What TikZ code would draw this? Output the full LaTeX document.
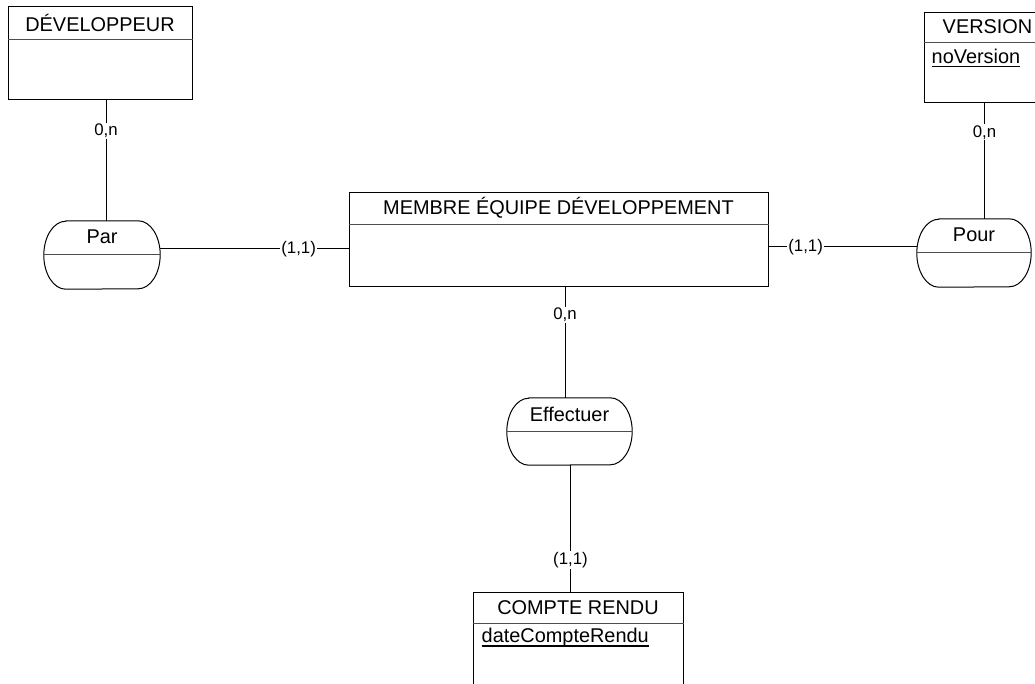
\documentclass[tikz,border=0pt]{standalone}
\usepackage{fontspec}
\setmainfont{Liberation Sans}
\begin{document}
\begin{tikzpicture}[x=1pt,y=1pt,
  line/.style={draw=black,line width=1pt},
  divider/.style={draw=black!70,line width=1pt},
  uline/.style={draw=black,line width=1.5pt},
  entity/.style={line,rectangle,inner sep=0pt},
  assocbox/.style={rectangle,draw=none,inner sep=0pt,minimum width=#1,minimum height=68pt},
  titletext/.style={inner sep=0pt,anchor=base,font=\fontsize{19.9}{22}\selectfont},
  attrtext/.style={inner sep=0pt,anchor=base west,font=\fontsize{19.9}{22}\selectfont},
  card/.style={fill=white,inner sep=1pt,font=\fontsize{16.8}{18}\selectfont}
]
\newcommand\assocoutline[1]{%
  \draw[line] ([xshift=22pt]#1.north west) -- ([xshift=-22pt]#1.north east)
    arc[start angle=90,end angle=-90,x radius=22pt,y radius=34pt]
    -- ([xshift=22pt]#1.south west)
    arc[start angle=270,end angle=90,x radius=22pt,y radius=34pt] -- cycle;
  \draw[divider] (#1.west) -- (#1.east);}
\useasboundingbox (0,0) rectangle (1035,-684);
\begin{scope}
\clip (0,0) rectangle (1035,-684);

% entities
\node[entity,minimum width=184pt,minimum height=93pt] (dev) at (100,-53.5) {};
\draw[divider] ([yshift=-33pt]dev.north west) -- ([yshift=-33pt]dev.north east);
\node[titletext] (devtitle) at ([yshift=-25pt]dev.north) {DÉVELOPPEUR};

\node[entity,minimum width=127pt,minimum height=90pt] (version) at (987.5,-58) {};
\draw[divider] ([yshift=-30pt]version.north west) -- ([yshift=-30pt]version.north east);
\node[titletext] (versiontitle) at ([yshift=-21pt]version.north) {VERSION};
\node[attrtext] (versionattr) at ([xshift=8pt,yshift=-51pt]version.north west) {noVersion};
\draw[uline] ([yshift=-3pt]versionattr.base west) -- ([yshift=-3pt]versionattr.base east);

\node[entity,minimum width=419pt,minimum height=94pt] (membre) at (558.5,-240) {};
\draw[divider] ([yshift=-32pt]membre.north west) -- ([yshift=-32pt]membre.north east);
\node[titletext] (membretitle) at ([yshift=-22pt]membre.north) {MEMBRE ÉQUIPE DÉVELOPPEMENT};

\node[entity,minimum width=210pt,minimum height=100pt] (compte) at (578,-642) {};
\draw[divider] ([yshift=-32pt]compte.north west) -- ([yshift=-32pt]compte.north east);
\node[titletext] (comptetitle) at ([yshift=-23pt]compte.north) {COMPTE RENDU};
\node[attrtext] (compteattr) at ([xshift=9pt,yshift=-51pt]compte.north west) {dateCompteRendu};
\draw[uline] ([yshift=-3.5pt]compteattr.base west) -- ([yshift=-3.5pt]compteattr.base east);

% associations
\node[assocbox=116pt] (par) at (102,-255) {};
\assocoutline{par}
\node[titletext] (partitle) at ([yshift=-23pt]par.north) {Par};

\node[assocbox=114pt] (pour) at (974,-253) {};
\assocoutline{pour}
\node[titletext] (pourtitle) at ([yshift=-23pt]pour.north) {Pour};

\node[assocbox=125pt,minimum height=67pt] (eff) at (569.5,-431.5) {};
\draw[line] ([xshift=22pt]eff.north west) -- ([xshift=-22pt]eff.north east)
    arc[start angle=90,end angle=-90,x radius=22pt,y radius=33.5pt]
    -- ([xshift=22pt]eff.south west)
    arc[start angle=270,end angle=90,x radius=22pt,y radius=33.5pt] -- cycle;
\draw[divider] (eff.west) -- (eff.east);
\node[titletext] (efftitle) at ([yshift=-24pt]eff.north) {Effectuer};

% connectors
\draw[line] ([xshift=6pt]dev.south) -- node[card,pos=0.25] {0,n} ([xshift=4pt]par.north);
\draw[line] ([xshift=-3pt]version.south) -- node[card,pos=0.25] {0,n} ([xshift=10.5pt]pour.north);
\draw[line] ([yshift=6pt]par.east) -- node[card,pos=0.735] {(1,1)} ([yshift=-9pt]membre.west);
\draw[line] ([yshift=-7pt]membre.east) -- node[card,pos=0.25] {(1,1)} ([yshift=6pt]pour.west);
\draw[line] ([xshift=6.5pt]membre.south) -- node[card,pos=0.25] {0,n} ([xshift=-4.5pt]eff.north);
\draw[line] ([xshift=1pt]eff.south) -- node[card,pos=0.75] {(1,1)} ([xshift=-7.5pt]compte.north);
\end{scope}
\end{tikzpicture}
\end{document}
